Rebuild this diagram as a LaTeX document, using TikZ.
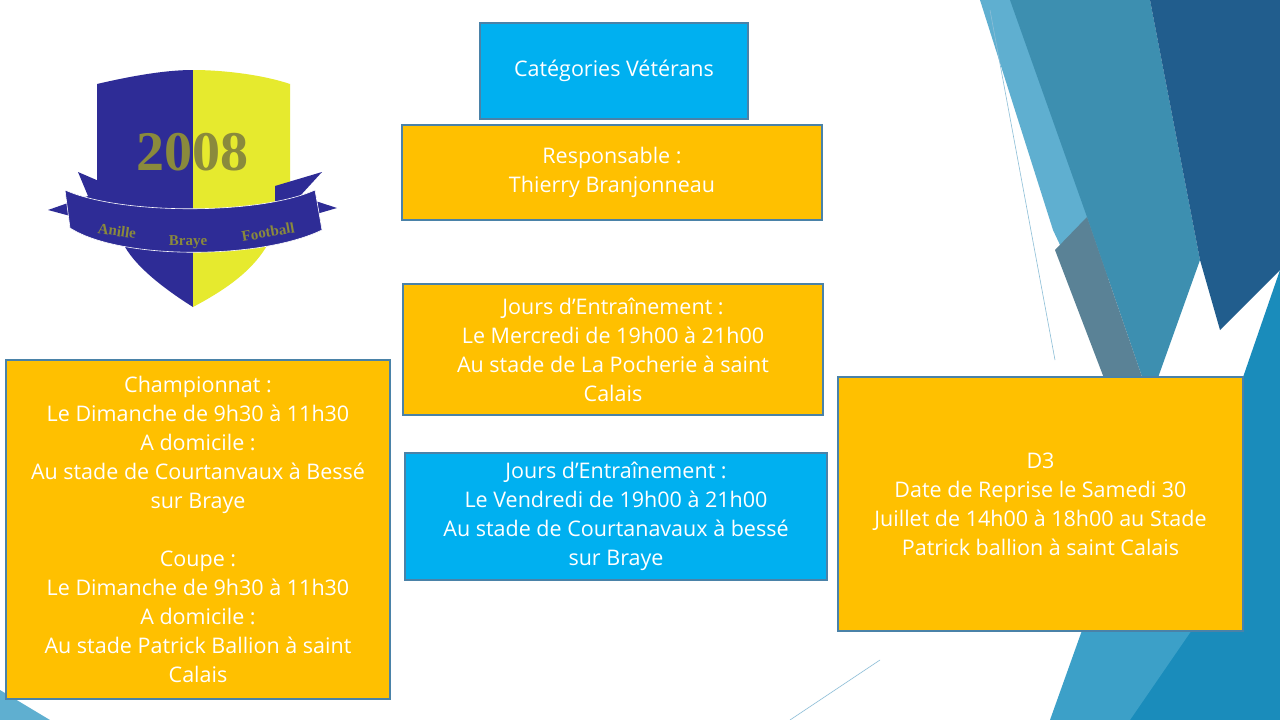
\documentclass[tikz,border=0pt]{standalone}
\usepackage{fontspec}
\setmainfont{Open Sans}
\newfontfamily\serifb{Liberation Serif}
\definecolor{bxor}{HTML}{FFC000}
\definecolor{bxbl}{HTML}{00B0F0}
\definecolor{bxln}{HTML}{4A82A8}
\definecolor{shblue}{HTML}{2E2C96}
\definecolor{shyel}{HTML}{E6EA2E}
\definecolor{olive}{HTML}{8A8A3C}
\definecolor{bgA}{RGB}{95,175,208}
\definecolor{bgB}{RGB}{61,143,176}
\definecolor{bgC}{RGB}{90,130,150}
\definecolor{bgD}{RGB}{33,93,141}
\definecolor{bgE}{RGB}{26,140,187}
\definecolor{bgF}{RGB}{60,160,200}
\definecolor{bgL}{RGB}{140,190,215}
\tikzset{
 box/.style={draw=bxln,line width=2pt,text=white,align=center,font=\fontsize{21.5}{29}\selectfont,inner sep=4pt},
}
\begin{document}
\begin{tikzpicture}[x=1pt,y=-1pt]
\useasboundingbox (0,0) rectangle (1280,720);
% background shapes
\fill[white] (0,0) rectangle (1280,720);
\fill[bgA] (980,0) -- (1150,0) -- (1100,330) -- (1053,230) -- cycle;
\fill[bgB] (1010,0) -- (1150,0) -- (1200,260) -- (1150,400) -- (1087,217) -- cycle;
\fill[bgC] (1087,217) -- (1150,400) -- (1120,420) -- (1055,250) -- cycle;
\fill[bgD] (1150,0) -- (1280,0) -- (1280,270) -- (1220,330) -- (1200,260) -- cycle;
\fill[bgE] (1280,270) -- (1280,720) -- (1090,720) -- (1180,560) -- cycle;
\fill[bgF] (1100,580) -- (1240,560) -- (1130,720) -- (1050,720) -- cycle;
\draw[bgL,line width=0.6pt] (990,10) -- (1055,360);
\draw[bgL,line width=0.6pt] (790,720) -- (880,660);
\fill[bgA] (0,690) -- (50,720) -- (0,720) -- cycle;
% logo
\fill[shblue] (97,84) .. controls (140,74) and (170,70) .. (193,70) -- (193,307) .. controls (150,280) and (125,255) .. (120,235) -- (97,230) -- cycle;
\fill[shyel] (193,70) .. controls (220,70) and (260,74) .. (290,84) -- (290,235) -- (270,240) .. controls (255,270) and (225,290) .. (193,307) -- cycle;
\node[font=\serifb\bfseries\fontsize{56}{56}\selectfont,text=olive] (yr) at (192,152) {2008};
\fill[shblue] (48,210) -- (88,196) -- (78,172) -- (115,188) -- (115,228) -- cycle;
\fill[shblue] (337,208) -- (300,196) -- (322,172) -- (275,186) -- (275,226) -- cycle;
\fill[shblue,draw=white,line width=0.6pt] (65,190) .. controls (120,215) and (260,215) .. (315,190) -- (322,230) .. controls (260,260) and (120,260) .. (70,228) -- cycle;
\node[font=\serifb\bfseries\fontsize{15}{15}\selectfont,text=olive,rotate=-8] (t1) at (117,231) {Anille};
\node[font=\serifb\bfseries\fontsize{15}{15}\selectfont,text=olive] (t2) at (188,242) {Braye};
\node[font=\serifb\bfseries\fontsize{15}{15}\selectfont,text=olive,rotate=10] (t3) at (268,232) {Football};
% boxes
\node[box,fill=bxbl,minimum width=268pt,minimum height=96pt] (cat) at (614,71) {Catégories Vétérans};
\node[box,fill=bxor,minimum width=420pt,minimum height=95pt] (resp) at (612,172.5) {Responsable :\\Thierry Branjonneau};
\node[box,fill=bxor,minimum width=420pt,minimum height=131pt] (j1) at (613,349.5) {Jours d’Entraînement :\\Le Mercredi de 19h00 à 21h00\\Au stade de La Pocherie à saint\\Calais};
\node[box,fill=bxbl,minimum width=422pt,minimum height=127pt] (j2) at (616,516.5) {Jours d’Entraînement :\\Le Vendredi de 19h00 à 21h00\\Au stade de Courtanavaux à bessé\\sur Braye};
\node[box,fill=bxor,minimum width=384pt,minimum height=339pt] (ch) at (198,529.5) {Championnat :\\Le Dimanche de 9h30 à 11h30\\A domicile :\\Au stade de Courtanvaux à Bessé\\sur Braye\\[29pt]Coupe :\\Le Dimanche de 9h30 à 11h30\\A domicile :\\Au stade Patrick Ballion à saint\\Calais};
\node[box,fill=bxor,minimum width=405pt,minimum height=254pt] (d3) at (1040.5,504) {D3\\Date de Reprise le Samedi 30\\Juillet de 14h00 à 18h00 au Stade\\Patrick ballion à saint Calais};
\end{tikzpicture}
\end{document}
